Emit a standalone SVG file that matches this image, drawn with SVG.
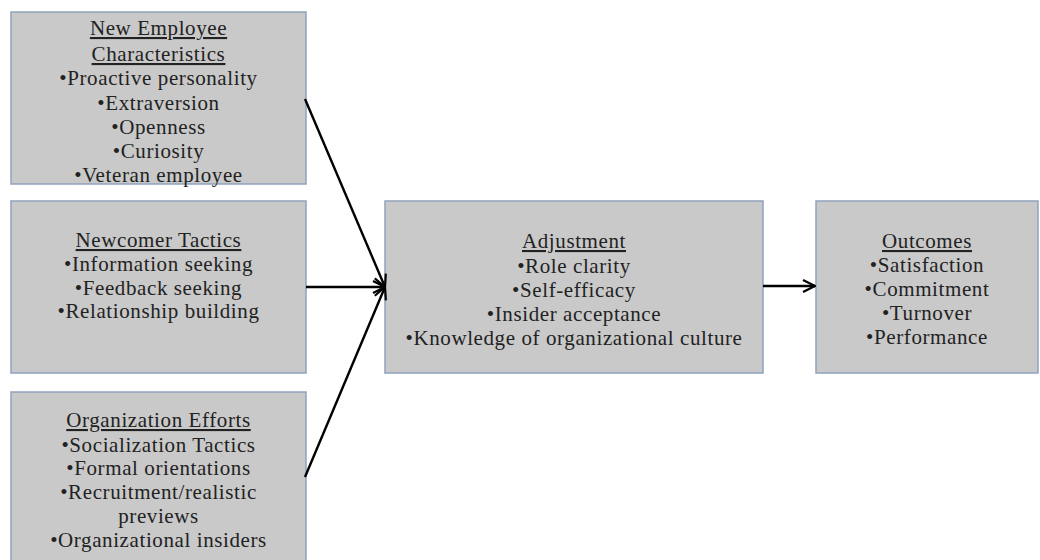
<svg xmlns="http://www.w3.org/2000/svg" width="1040" height="560" viewBox="0 0 1040 560">
<defs>
<style>
.box{fill:#c9c9c9;stroke:#8ea2bc;stroke-width:1.5}
.t{font-family:"Liberation Serif","Times New Roman",serif;font-size:21px;letter-spacing:0.6px;fill:#222;text-anchor:middle}
.h{text-decoration:underline}
.c{stroke:#000;stroke-width:2.4;fill:none}
</style>
<marker id="ah" viewBox="0 0 14 14" refX="13" refY="7" markerWidth="14" markerHeight="14" markerUnits="userSpaceOnUse" orient="auto">
<path d="M1,1 L13,7 L1,13" fill="none" stroke="#000" stroke-width="2.2"/>
</marker>
</defs>
<rect width="1040" height="560" fill="#fff"/>
<g id="new-employee">
<rect class="box" x="11" y="12" width="295" height="172"/>
<text class="t h" x="158.5" y="35">New Employee</text>
<text class="t h" x="158.5" y="61">Characteristics</text>
<text class="t" x="158.5" y="85">•Proactive personality</text>
<text class="t" x="158.5" y="110">•Extraversion</text>
<text class="t" x="158.5" y="134">•Openness</text>
<text class="t" x="158.5" y="158">•Curiosity</text>
<text class="t" x="158.5" y="182">•Veteran employee</text>
</g>
<g id="newcomer-tactics">
<rect class="box" x="11" y="201" width="295" height="172"/>
<text class="t h" x="158.5" y="247">Newcomer Tactics</text>
<text class="t" x="158.5" y="271">•Information seeking</text>
<text class="t" x="158.5" y="295">•Feedback seeking</text>
<text class="t" x="158.5" y="318">•Relationship building</text>
</g>
<g id="organization-efforts">
<rect class="box" x="11" y="392" width="295" height="180"/>
<text class="t h" x="158.5" y="427">Organization Efforts</text>
<text class="t" x="158.5" y="452">•Socialization Tactics</text>
<text class="t" x="158.5" y="475">•Formal orientations</text>
<text class="t" x="158.5" y="499">•Recruitment/realistic</text>
<text class="t" x="158.5" y="523">previews</text>
<text class="t" x="158.5" y="547">•Organizational insiders</text>
</g>
<g id="adjustment">
<rect class="box" x="385" y="201" width="378" height="172"/>
<text class="t h" x="574" y="248">Adjustment</text>
<text class="t" x="574" y="273">•Role clarity</text>
<text class="t" x="574" y="297">•Self-efficacy</text>
<text class="t" x="574" y="321">•Insider acceptance</text>
<text class="t" x="574" y="345">•Knowledge of organizational culture</text>
</g>
<g id="outcomes">
<rect class="box" x="816" y="201" width="222" height="172"/>
<text class="t h" x="927" y="248">Outcomes</text>
<text class="t" x="927" y="272">•Satisfaction</text>
<text class="t" x="927" y="296">•Commitment</text>
<text class="t" x="927" y="320">•Turnover</text>
<text class="t" x="927" y="344">•Performance</text>
</g>
<g id="connectors">
<line class="c" x1="305" y1="99" x2="385" y2="287" marker-end="url(#ah)"/>
<line class="c" x1="306" y1="287" x2="385" y2="287" marker-end="url(#ah)"/>
<line class="c" x1="305" y1="477" x2="385" y2="287" marker-end="url(#ah)"/>
<line class="c" x1="763" y1="286" x2="815" y2="286" marker-end="url(#ah)"/>
</g>
</svg>
